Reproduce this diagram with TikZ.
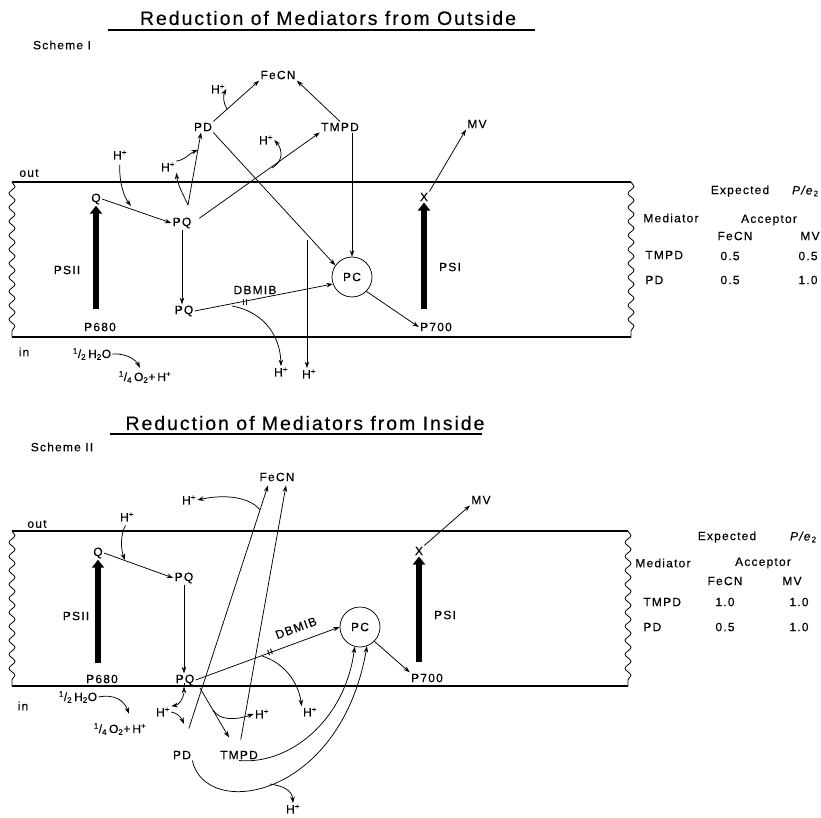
\documentclass[tikz,border=0pt]{standalone}
\usepackage{fontspec}
\setmainfont{Liberation Sans}[LetterSpace=10,FakeBold=0.3]
\usetikzlibrary{arrows.meta,decorations.pathmorphing,calc}
\newcommand{\Hplus}{H\textsuperscript{+}}
\newcommand{\PeTwo}{\textit{P/e}\textsubscript{2}}
\newcommand{\halfH}{\textsuperscript{1}/\textsubscript{2}\,H\textsubscript{2}O}
\newcommand{\quartO}{\textsuperscript{1}/\textsubscript{4}\,O\textsubscript{2}+\,H\textsuperscript{+}}
\begin{document}
\begin{tikzpicture}[x=1pt,y=-1pt,
 lbl/.style={inner sep=1.2pt,font=\fontsize{12}{14}\selectfont},
 ttl/.style={inner sep=1pt,font=\fontsize{19.5}{22}\selectfont},
 arr/.style={line width=0.75pt,-{Stealth[length=6.5pt,width=4.5pt]}},
 mem/.style={line width=1.6pt},
 wav/.style={line width=0.8pt,decorate,decoration={snake,segment length=14pt,amplitude=3pt}},
 psar/.style={line width=6pt,-{Triangle[length=8pt,width=12pt]}},
 pc/.style={draw,circle,line width=0.75pt,minimum size=40pt,inner sep=0pt,font=\fontsize{12}{14}\selectfont},
 blk/.style={inner sep=0pt,font=\fontsize{8}{9}\selectfont}
]
\useasboundingbox (0,0) rectangle (821,818);

% ================= Scheme I =================
\node[ttl] (t1) at (328,18) {Reduction of Mediators from Outside};
\draw[line width=1.2pt] (108,30) -- (535,30);
\node[lbl] (sch1) at (62,45) {Scheme I};

% membrane
\draw[mem] (12,182) -- (631,182);
\draw[mem] (12,337) -- (631,337);
\draw[wav] (12,182) -- (12,337);
\draw[wav] (631,182) -- (631,337);
\node[lbl] (out1) at (29,173) {out};
\node[lbl] (in1) at (24,352) {in};

\node[lbl] (Q1) at (96,199) {Q};
\node[lbl] (P6801) at (100,327) {P680};
\node[lbl] (PSII1) at (67,270) {PSII};
\node[lbl] (PQa1) at (182,223) {PQ};
\node[lbl] (PQb1) at (184,311) {PQ};
\node[lbl] (PD1) at (203,127) {PD};
\node[lbl] (TMPD1) at (340,127) {TMPD};
\node[lbl] (FeCN1) at (278,75) {FeCN};
\node[lbl] (Hp1a) at (120,155) {\Hplus};
\node[lbl] (Hp1b) at (218,89) {\Hplus};
\node[lbl] (Hp1c) at (168,167) {\Hplus};
\node[lbl] (Hp1d) at (266,140) {\Hplus};
\node[lbl] (Hp1e) at (281,372) {\Hplus};
\node[lbl] (Hp1f) at (309,374) {\Hplus};
\node[pc] (PC1) at (352,277) {PC};
\node[lbl] (P7001) at (436,327) {P700};
\node[lbl] (X1) at (424,197) {X};
\node[lbl] (PSI1) at (450,267) {PSI};
\node[lbl] (MV1) at (477,124) {MV};
\node[lbl] (DBMIB1) at (255,290) {DBMIB};
\node[blk] (blk1) at (245,302) {II};
\node[lbl] (H2O1) at (92,354) {\halfH};
\node[lbl] (O21) at (145,377) {\quartO};

\coordinate (c1) at (131,206);
\coordinate (c2) at (232,306);
\coordinate (c3) at (307,240);
\coordinate (c4) at (227,109);
\coordinate (c5) at (272,168);
\coordinate (c6) at (188,205);
\coordinate (c7) at (198,150);

\draw[psar,shorten <=12pt] (Q1.south |- P6801.north) -- (Q1.south);
\draw[psar,shorten <=12pt] (X1.south |- P7001.north) -- (X1.south);
\draw[arr] (Q1.east) -- (PQa1.west);
\draw[arr,shorten <=4pt] (Hp1a.south) .. controls (119,182) and (124,197) .. (c1);
\draw[arr] (PQa1.south) -- (PQa1.south |- PQb1.north);
\draw[arr] (PQb1.east) -- (PC1.200);
\draw[arr] (c2) .. controls (260,311) and (280,332) .. (Hp1e.north);
\draw[arr] (c3) -- (c3 |- Hp1f.north);
\draw[arr] (PC1.-45) -- (P7001.west);
\draw[arr] (X1.north east) -- (MV1.south west);
\draw[arr] (PD1.north east) -- (FeCN1.south west);
\draw[arr] (c4) .. controls (223,103) and (223,95) .. (Hp1b.east);
\draw[arr] (TMPD1.north) -- (FeCN1.south east);
\draw[arr] (PC1.north |- TMPD1.south) -- (PC1.north);
\draw[arr] (PD1.south east) -- (PC1.145);
\draw[arr,shorten <=8pt] (PQa1.east) -- (TMPD1.south west);
\draw[arr] (c5) .. controls (283,162) and (283,150) .. (Hp1d.east);
\draw[arr] (c6) -- (PD1.250);
\draw[arr] (c6) .. controls (184,196) and (178,186) .. (Hp1c.south east);
\draw[arr] (Hp1c.north east) .. controls (185,160) and (190,153) .. (c7);
\draw[arr] (H2O1.east) .. controls (129,353) and (137,362) .. ($(O21.north)+(-5,-2)$);

% table I
\node[lbl] (exp1) at (740,191) {Expected};
\node[lbl,anchor=east] (pe1) at (820,191) {\PeTwo};
\node[lbl,anchor=west] (med1) at (642,218) {Mediator};
\node[lbl] (acc1) at (769,220) {Acceptor};
\node[lbl] (fe1) at (735,236) {FeCN};
\node[lbl] (mv1t) at (810,236) {MV};
\node[lbl,anchor=west] (tm1) at (644,255) {TMPD};
\node[lbl] (v11) at (730,256) {0.5};
\node[lbl] (v12) at (808,256) {0.5};
\node[lbl,anchor=west] (pd1t) at (644,280) {PD};
\node[lbl] (v13) at (730,280) {0.5};
\node[lbl] (v14) at (808,280) {1.0};

% ================= Scheme II =================
\node[ttl] (t2) at (305,423) {Reduction of Mediators from Inside};
\draw[line width=1.2pt] (110,434) -- (482,434);
\node[lbl] (sch2) at (62,447) {Scheme II};

\draw[mem] (12,531) -- (628,531);
\draw[mem] (12,686) -- (628,686);
\draw[wav] (12,531) -- (12,686);
\draw[wav] (628,531) -- (628,686);
\node[lbl] (out2) at (37,524) {out};
\node[lbl] (in2) at (23,706) {in};

\node[lbl] (Hp2a) at (127,517) {\Hplus};
\node[lbl] (Q2) at (98,553) {Q};
\node[lbl] (PQa2) at (184,578) {PQ};
\node[lbl] (PSII2) at (76,616) {PSII};
\node[lbl] (P6802) at (102,679) {P680};
\node[lbl] (PQb2) at (185,680) {PQ};
\node[lbl,inner sep=4pt] (FeCN2) at (277,477) {FeCN};
\node[lbl] (Hp2b) at (189,500) {\Hplus};
\node[pc] (PC2) at (360,627) {PC};
\node[lbl] (P7002) at (427,678) {P700};
\node[lbl] (X2) at (419,551) {X};
\node[lbl] (PSI2) at (445,615) {PSI};
\node[lbl] (MV2) at (481,500) {MV};
\node[lbl,rotate=20,inner sep=0pt] (DBMIB2) at (296,628) {DBMIB};
\node[blk,rotate=20] (blk2) at (270,652) {II};
\node[lbl] (Hp2c) at (310,712) {\Hplus};
\node[lbl] (PD2) at (182,755) {PD};
\node[lbl] (TMPD2) at (239,755) {TMPD};
\node[lbl] (Hp2d) at (163,712) {\Hplus};
\node[lbl] (Hp2e) at (262,714) {\Hplus};
\node[lbl] (Hp2f) at (293,809) {\Hplus};
\node[lbl] (H2O2) at (78,697) {\halfH};
\node[lbl] (O22) at (120,729) {\quartO};

\coordinate (d1) at (125,560);
\coordinate (d2) at (262,656);
\coordinate (d3) at (260,510);
\coordinate (d4) at (184,693);
\coordinate (d5) at (184,724);
\coordinate (d6) at (200,688);
\coordinate (d7) at (213,710);
\coordinate (d8) at (270,784);

\draw[psar,shorten <=10pt] (Q2.south |- P6802.north) -- (Q2.south);
\draw[psar,shorten <=10pt] (X2.south |- P7002.north) -- (X2.south);
\draw[arr] (Q2.east) -- (PQa2.west);
\draw[arr,shorten <=3pt] (Hp2a.south) .. controls (120,535) and (121,550) .. (d1);
\draw[arr] (PQa2.south) -- (PQa2.south |- PQb2.north);
\draw[arr] (PQb2.east) -- (PC2.west);
\draw[arr] (d2) .. controls (282,662) and (298,680) .. (Hp2c.north west);
\draw[arr] (PC2.-45) -- (P7002.north west);
\draw[arr] (X2.north east) -- (MV2.south west);
\draw[arr,shorten <=22pt] (PD2.north) -- ($(FeCN2.south)+(-9,0)$);
\draw[arr,shorten <=10pt] (TMPD2.north) -- ($(FeCN2.south)+(9,0)$);
\draw[arr] (d3) .. controls (250,497) and (225,494) .. (Hp2b.east);
\draw[arr] (PQb2.south -| d4) -- (PQb2.south -| d4 |- PD2.north);
\draw[arr] (d4) .. controls (183,700) and (178,705) .. (Hp2d.north east);
\draw[arr] (Hp2d.east) .. controls (177,713) and (181,717) .. (d5);
\draw[arr] (d6) -- ($(TMPD2.north)+(-10,-12)$);
\draw[arr] (d7) .. controls (220,721) and (236,720) .. (Hp2e.west);
\draw[arr] (TMPD2.south) .. controls (290,765) and (345,720) .. (PC2.255);
\draw[arr] (PD2.south east) .. controls (205,820) and (340,800) .. (PC2.290);
\draw[arr] (d8) .. controls (283,786) and (292,790) .. (Hp2f.north);
\draw[arr] (H2O2.east) .. controls (114,694) and (124,700) .. ($(O22.north)+(9,-8)$);

% table II
\node[lbl] (exp2) at (727,537) {Expected};
\node[lbl,anchor=east] (pe2) at (818,537) {\PeTwo};
\node[lbl,anchor=west] (med2) at (634,563) {Mediator};
\node[lbl] (acc2) at (763,563) {Acceptor};
\node[lbl] (fe2) at (725,581) {FeCN};
\node[lbl] (mv2t) at (792,581) {MV};
\node[lbl,anchor=west] (tm2) at (642,602) {TMPD};
\node[lbl] (w11) at (725,602) {1.0};
\node[lbl] (w12) at (799,602) {1.0};
\node[lbl,anchor=west] (pd2t) at (642,627) {PD};
\node[lbl] (w13) at (725,627) {0.5};
\node[lbl] (w14) at (799,627) {1.0};
\end{tikzpicture}
\end{document}
